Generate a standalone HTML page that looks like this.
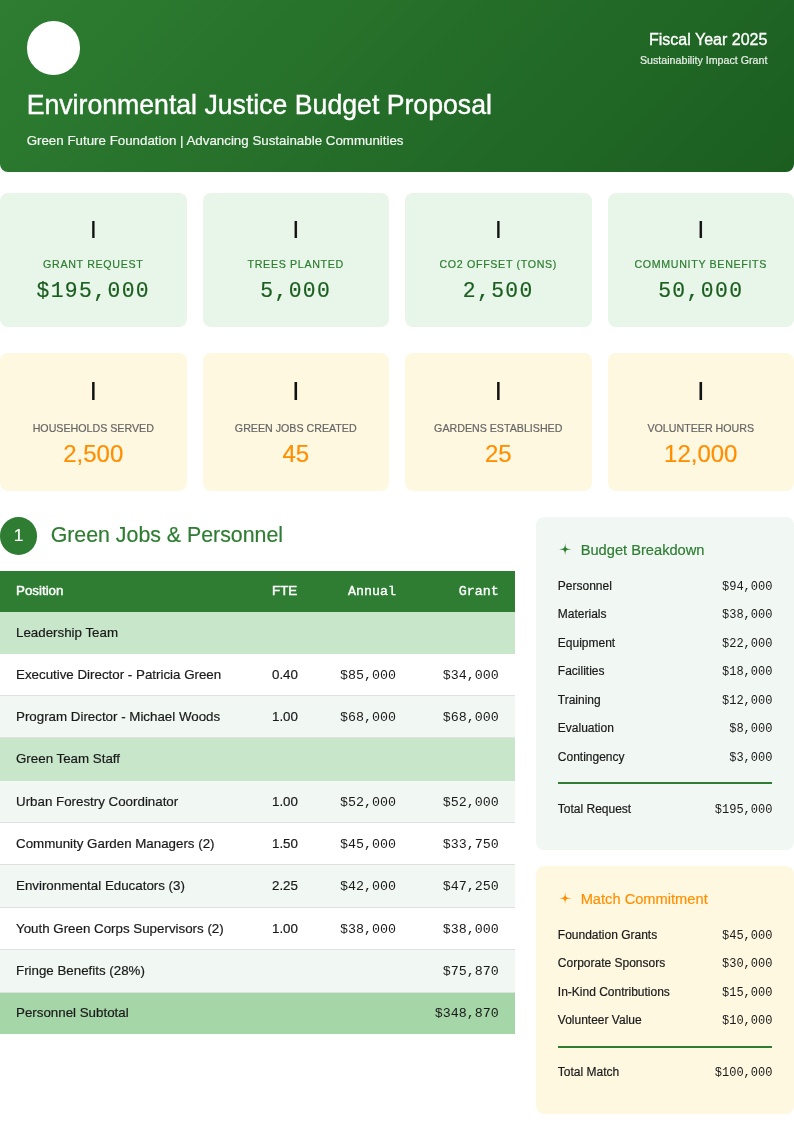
<!DOCTYPE html>
<html lang="en">
<head>
<meta charset="utf-8">
<title>Environmental Justice Budget Proposal</title>
<style>
*{box-sizing:border-box;margin:0;padding:0}
html,body{width:794px;height:1123px;background:#fff;overflow:hidden}
body{-webkit-text-stroke:0.2px;position:relative;font-family:"Liberation Sans",sans-serif;color:#1a1a1a;font-size:13.33px}
.mono{font-family:"Liberation Mono","DejaVu Sans Mono",monospace}
.abs{position:absolute}

/* header */
.header{position:absolute;left:0;top:0;width:794px;height:172px;background:linear-gradient(135deg,#2e7d32 0%,#1b5e20 100%);border-radius:0 0 8px 8px;color:#fff}
.logo{position:absolute;left:26.67px;top:21.33px;width:53.33px;height:53.33px;border-radius:50%;background:#fff}
.title{-webkit-text-stroke:0.4px;transform:scaleY(1.04);transform-origin:0 25px;position:absolute;left:26.67px;top:89px;font-size:26.67px;line-height:32px;white-space:nowrap;font-weight:400}
.subtitle{position:absolute;left:26.67px;top:132px;font-size:13.33px;line-height:18px;white-space:nowrap;opacity:.95}
.fy{-webkit-text-stroke:0.35px;position:absolute;right:26.67px;top:30px;font-size:16px;line-height:20px;white-space:nowrap;text-align:right}
.grant{position:absolute;right:26.67px;top:53px;font-size:10.67px;line-height:14px;white-space:nowrap;text-align:right;opacity:.9}

/* stat cards */
.card{position:absolute;width:186.5px;border-radius:8px;text-align:center}
.r1{top:193px;height:134px;background:#e8f5e9}
.r2{top:353px;height:138px;background:#fff8e1}
.c1{left:0}.c2{left:202.5px}.c3{left:405px}.c4{left:607.5px}
.card .ico{position:absolute;left:0;width:100%;font-size:24px;line-height:28px;color:#111}
.card .lbl{position:absolute;left:0;width:100%;font-size:10.67px;line-height:14px;text-transform:uppercase;white-space:nowrap}
.card .val{position:absolute;left:0;width:100%;white-space:nowrap}
.r1 .ico{top:23px}
.r1 .lbl{top:63.6px;color:#2e7d32;letter-spacing:.67px}
.r1 .val{top:85.2px;font-family:"Liberation Mono","DejaVu Sans Mono",monospace;font-size:21.33px;line-height:26px;letter-spacing:1.4px;color:#1b5e20}
.r2 .ico{top:24.3px;font-size:25.5px}
.r2 .lbl{top:68px;color:#666}
.r2 .val{top:86px;font-size:24px;line-height:30px;color:#ff8f00}

/* section */
.num{position:absolute;left:-0.4px;top:516.9px;width:37.8px;height:37.8px;border-radius:50%;background:#2e7d32;color:#fff;text-align:center;font-size:17.33px;line-height:37.33px}
.sect{transform:scaleY(1.04);transform-origin:0 20px;position:absolute;left:50.67px;top:522px;font-size:21.33px;line-height:26px;color:#2e7d32;white-space:nowrap}

/* table */
.tbl{position:absolute;left:0;top:571px;width:514.67px}
.row{position:relative;width:100%;font-size:13.33px;white-space:nowrap}
.row span{position:absolute;top:0;height:100%}
.row .p{left:16px}
.row .f{left:272px}
.row .a{top:1px;right:118.67px;text-align:right;font-family:"Liberation Mono","DejaVu Sans Mono",monospace}
.row .g{top:1px;right:16px;text-align:right;font-family:"Liberation Mono","DejaVu Sans Mono",monospace}
.row .a,.row .g{-webkit-text-stroke:0}
.hd .a,.hd .g{-webkit-text-stroke:0.35px}
.hd{background:#2e7d32;color:#fff;-webkit-text-stroke:0.45px}
.cat{background:#c8e6c9}
.alt{background:#f1f8f4}
.bd{border-bottom:1px solid #e0e0e0}
.sub{background:#a5d6a7}

/* sidebar */
.side{position:absolute;left:536px;width:258px;border-radius:8px}
.s1{top:517px;height:332.7px;background:#f1f8f4}
.s2{top:866px;height:247.7px;background:#fff8e1}
.side h3{transform:scaleY(1.04);transform-origin:0 15px;position:absolute;left:44.67px;top:23px;font-size:14.67px;line-height:20px;font-weight:400;white-space:nowrap}
.side svg{position:absolute;left:23.05px;top:26.15px;width:12.3px;height:12.3px}
.s1 h3{color:#2e7d32}
.s2 h3{color:#ff8f00}
.items{position:absolute;left:21.8px;right:21.6px;top:54.8px}
.it{position:relative;height:28.5px;line-height:28.5px;font-size:12px;white-space:nowrap}
.it b{font-weight:400;position:absolute;right:0;top:1.2px;-webkit-text-stroke:0;font-family:"Liberation Mono","DejaVu Sans Mono",monospace}
.line{position:absolute;left:21.8px;right:21.6px;height:2.67px;background:#2e7d32}
.tot{position:absolute;left:21.8px;right:21.6px;height:28.5px;line-height:28.5px;font-size:12px;white-space:nowrap}
.tot b{font-weight:400;position:absolute;right:0;top:1.2px;-webkit-text-stroke:0;font-family:"Liberation Mono","DejaVu Sans Mono",monospace}
</style>
</head>
<body>

<div class="header">
  <div class="logo"></div>
  <div class="title">Environmental Justice Budget Proposal</div>
  <div class="subtitle">Green Future Foundation | Advancing Sustainable Communities</div>
  <div class="fy">Fiscal Year 2025</div>
  <div class="grant">Sustainability Impact Grant</div>
</div>

<div class="card r1 c1"><div class="ico">I</div><div class="lbl">Grant Request</div><div class="val">$195,000</div></div>
<div class="card r1 c2"><div class="ico">I</div><div class="lbl">Trees Planted</div><div class="val">5,000</div></div>
<div class="card r1 c3"><div class="ico">I</div><div class="lbl">CO2 Offset (Tons)</div><div class="val">2,500</div></div>
<div class="card r1 c4"><div class="ico">I</div><div class="lbl">Community Benefits</div><div class="val">50,000</div></div>

<div class="card r2 c1"><div class="ico">I</div><div class="lbl">Households Served</div><div class="val">2,500</div></div>
<div class="card r2 c2"><div class="ico">I</div><div class="lbl">Green Jobs Created</div><div class="val">45</div></div>
<div class="card r2 c3"><div class="ico">I</div><div class="lbl">Gardens Established</div><div class="val">25</div></div>
<div class="card r2 c4"><div class="ico">I</div><div class="lbl">Volunteer Hours</div><div class="val">12,000</div></div>

<div class="num">1</div>
<div class="sect">Green Jobs &amp; Personnel</div>

<div class="tbl">
  <div class="row hd" style="height:41px;line-height:39px"><span class="p">Position</span><span class="f">FTE</span><span class="a">Annual</span><span class="g">Grant</span></div>
  <div class="row cat" style="height:41.5px;line-height:41.5px"><span class="p">Leadership Team</span></div>
  <div class="row bd" style="height:42px;line-height:41px"><span class="p">Executive Director - Patricia Green</span><span class="f">0.40</span><span class="a">$85,000</span><span class="g">$34,000</span></div>
  <div class="row bd alt" style="height:42.5px;line-height:41.5px"><span class="p">Program Director - Michael Woods</span><span class="f">1.00</span><span class="a">$68,000</span><span class="g">$68,000</span></div>
  <div class="row cat" style="height:42.5px;line-height:42.5px"><span class="p">Green Team Staff</span></div>
  <div class="row bd alt" style="height:42px;line-height:41px"><span class="p">Urban Forestry Coordinator</span><span class="f">1.00</span><span class="a">$52,000</span><span class="g">$52,000</span></div>
  <div class="row bd" style="height:42.5px;line-height:41.5px"><span class="p">Community Garden Managers (2)</span><span class="f">1.50</span><span class="a">$45,000</span><span class="g">$33,750</span></div>
  <div class="row bd alt" style="height:42.5px;line-height:41.5px"><span class="p">Environmental Educators (3)</span><span class="f">2.25</span><span class="a">$42,000</span><span class="g">$47,250</span></div>
  <div class="row bd" style="height:42px;line-height:41px"><span class="p">Youth Green Corps Supervisors (2)</span><span class="f">1.00</span><span class="a">$38,000</span><span class="g">$38,000</span></div>
  <div class="row bd alt" style="height:43.5px;line-height:42.5px"><span class="p">Fringe Benefits (28%)</span><span class="g">$75,870</span></div>
  <div class="row sub" style="height:41px;line-height:39px"><span class="p">Personnel Subtotal</span><span class="g">$348,870</span></div>
</div>

<div class="side s1">
  <svg viewBox="-10 -10 20 20"><path d="M0-10C.7-1.3 1.3-.7 10 0 1.3.7.7 1.3 0 10-.7 1.3-1.3.7-10 0-1.3-.7-.7-1.3 0-10z" fill="#2e7d32"/></svg>
  <h3>Budget Breakdown</h3>
  <div class="items">
    <div class="it">Personnel<b>$94,000</b></div>
    <div class="it">Materials<b>$38,000</b></div>
    <div class="it">Equipment<b>$22,000</b></div>
    <div class="it">Facilities<b>$18,000</b></div>
    <div class="it">Training<b>$12,000</b></div>
    <div class="it">Evaluation<b>$8,000</b></div>
    <div class="it">Contingency<b>$3,000</b></div>
  </div>
  <div class="line" style="top:264.6px"></div>
  <div class="tot" style="top:277.5px">Total Request<b>$195,000</b></div>
</div>

<div class="side s2">
  <svg viewBox="-10 -10 20 20"><path d="M0-10C.7-1.3 1.3-.7 10 0 1.3.7.7 1.3 0 10-.7 1.3-1.3.7-10 0-1.3-.7-.7-1.3 0-10z" fill="#ff8f00"/></svg>
  <h3>Match Commitment</h3>
  <div class="items">
    <div class="it">Foundation Grants<b>$45,000</b></div>
    <div class="it">Corporate Sponsors<b>$30,000</b></div>
    <div class="it">In-Kind Contributions<b>$15,000</b></div>
    <div class="it">Volunteer Value<b>$10,000</b></div>
  </div>
  <div class="line" style="top:179.5px"></div>
  <div class="tot" style="top:191.7px">Total Match<b>$100,000</b></div>
</div>

</body>
</html>
